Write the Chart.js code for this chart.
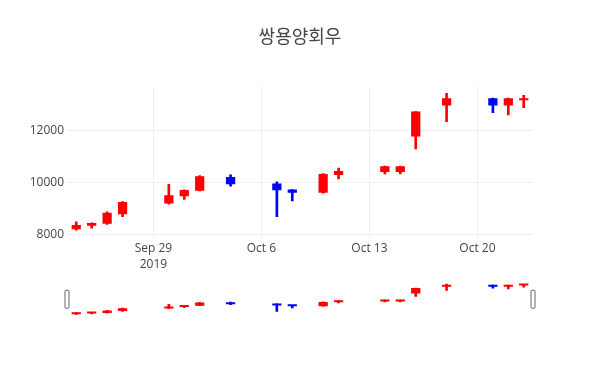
<!DOCTYPE html>
<html>
<head>
<meta charset="utf-8">
<script src="https://cdn.jsdelivr.net/npm/chart.js@4"></script>
<style>
  body { margin: 0; background: #fff; }
  #wrap { position: relative; width: 600px; height: 386px; }
  #main { position: absolute; left: 0; top: 0; }
  #slider { position: absolute; left: 0; top: 275px; }
</style>
</head>
<body>
<div id="wrap">
  <canvas id="main" width="600" height="275"></canvas>
  <canvas id="slider" width="600" height="50"></canvas>
</div>
<script>
// 쌍용양회우 daily prices
const dates = ["2019-09-24", "2019-09-25", "2019-09-26", "2019-09-27", "2019-09-30",
  "2019-10-01", "2019-10-02", "2019-10-04", "2019-10-07", "2019-10-08",
  "2019-10-10", "2019-10-11", "2019-10-14", "2019-10-15", "2019-10-16",
  "2019-10-18", "2019-10-21", "2019-10-22", "2019-10-23"];
const openP  = [8190, 8320, 8400, 8770, 9180, 9460, 9670, 10200, 9950, 9720,
  9590, 10280, 10390, 10390, 11760, 12950, 13230, 12950, 13150];
const highP  = [8470, 8440, 8860, 9250, 9920, 9710, 10250, 10280, 10010, 9720,
  10330, 10540, 10620, 10620, 12720, 13420, 13240, 13240, 13340];
const lowP   = [8150, 8230, 8370, 8670, 9150, 9340, 9660, 9850, 8670, 9280,
  9580, 10130, 10320, 10320, 11280, 12330, 12680, 12590, 12870];
const closeP = [8350, 8430, 8820, 9240, 9500, 9700, 10230, 9920, 9690, 9590,
  10320, 10430, 10610, 10610, 12720, 13230, 12950, 13230, 13200];

const yTicks = [8000, 10000, 12000];
const xTickDates = ["2019-09-29", "2019-10-06", "2019-10-13", "2019-10-20"];
const xTickLabels = [["Sep 29", "2019"], "Oct 6", "Oct 13", "Oct 20"];

const base = Date.parse("2019-09-29");
const dayOf = (d) => (Date.parse(d) - base) / 86400000;
const xs = dates.map(dayOf);
const colors = closeP.map((c, i) => (c >= openP[i] ? "red" : "blue"));

const xMin = -5.6, xMax = 24.6;
const yMin = 7890, yMax = 13680;
const fontFam = "'Open Sans', 'Noto Sans CJK KR', sans-serif";

function candleSets() {
  return [
    {
      data: xs.map((x, i) => ({ x: x, y: [openP[i], closeP[i]] })),
      backgroundColor: colors,
      borderColor: colors,
      borderWidth: 0,
      minBarLength: 2,
      barPercentage: 0.6,
      categoryPercentage: 1,
      grouped: false,
      order: 1,
    },
    {
      data: xs.map((x, i) => ({ x: x, y: [lowP[i], highP[i]] })),
      backgroundColor: colors,
      barThickness: 2,
      grouped: false,
      order: 2,
    },
  ];
}

new Chart(document.getElementById("main"), {
  type: "bar",
  data: { datasets: candleSets() },
  options: {
    responsive: false,
    animation: false,
    plugins: {
      legend: { display: false },
      tooltip: { enabled: false },
      title: {
        display: true,
        text: "쌍용양회우",
        color: "#444",
        font: { family: fontFam, size: 18, weight: "normal" },
        padding: { top: 27, bottom: 38 },
      },
    },
    scales: {
      x: {
        type: "linear",
        offset: false,
        min: xMin,
        max: xMax,
        afterBuildTicks: (s) => { s.ticks = xTickDates.map((d) => ({ value: dayOf(d) })); },
        afterFit: (s) => { s.height = 38; },
        grid: { color: "#eee", drawTicks: false, offset: false },
        border: { display: false },
        ticks: {
          autoSkip: false,
          maxRotation: 0,
          padding: 3,
          color: "#444",
          font: { family: fontFam, size: 12, lineHeight: 1.35 },
          callback: (v, i) => xTickLabels[i],
        },
      },
      y: {
        min: yMin,
        max: yMax,
        afterBuildTicks: (s) => { s.ticks = yTicks.map((v) => ({ value: v })); },
        afterFit: (s) => { s.width = 67; },
        grid: { color: "#eee", drawTicks: false },
        border: { display: false },
        ticks: {
          padding: 3,
          color: "#444",
          font: { family: fontFam, size: 12 },
          callback: (v) => String(v),
        },
      },
      // empty right margin
      yr: {
        position: "right",
        min: yMin,
        max: yMax,
        afterFit: (s) => { s.width = 67; },
        grid: { display: false },
        border: { display: false },
        ticks: { display: false },
      },
    },
  },
});

// range slider handles
const handles = {
  id: "handles",
  afterDraw(chart) {
    const ctx = chart.ctx;
    const a = chart.chartArea;
    const mid = (a.top + a.bottom) / 2;
    [a.left, a.right].forEach((x) => {
      ctx.save();
      ctx.beginPath();
      ctx.roundRect(x - 2, mid - 9, 4, 18, 1);
      ctx.fillStyle = "#fff";
      ctx.fill();
      ctx.strokeStyle = "#666";
      ctx.lineWidth = 1;
      ctx.stroke();
      ctx.restore();
    });
  },
};

new Chart(document.getElementById("slider"), {
  type: "bar",
  data: { datasets: candleSets() },
  options: {
    responsive: false,
    animation: false,
    layout: { padding: { left: 67, right: 67, top: 7.5, bottom: 9 } },
    plugins: { legend: { display: false }, tooltip: { enabled: false } },
    scales: {
      x: { type: "linear", offset: false, min: xMin, max: xMax, display: false },
      y: { min: yMin, max: yMax, display: false },
    },
  },
  plugins: [handles],
});
</script>
</body>
</html>
